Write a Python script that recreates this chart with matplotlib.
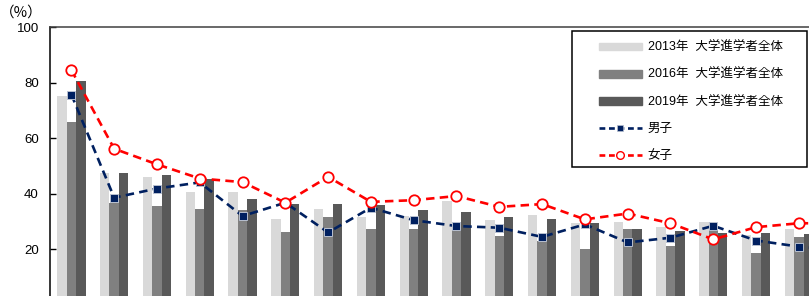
import matplotlib
matplotlib.use("Agg")
import matplotlib.pyplot as plt
import numpy as np
from matplotlib.patches import Patch, Rectangle
from matplotlib.lines import Line2D

# ---- data (last group lies beyond the visible edge) ----
y2013 = [75.0, 47.6, 46.1, 40.7, 40.7, 30.8, 34.5, 31.8, 32.0, 37.5, 30.4, 32.2, 29.6, 29.9, 28.2, 29.9, 25.2, 27.2, 26.0]
y2016 = [65.8, 36.8, 35.6, 34.6, 34.0, 26.2, 31.7, 27.5, 27.2, 27.5, 24.8, 22.9, 20.1, 27.2, 21.2, 28.0, 18.8, 24.3, 22.0]
y2019 = [80.7, 47.6, 46.7, 45.3, 38.3, 36.5, 36.4, 35.9, 34.1, 33.6, 31.7, 30.8, 29.6, 27.5, 26.7, 25.8, 25.8, 25.4, 24.0]
male = [75.7, 38.6, 41.9, 44.1, 32.0, 36.8, 26.1, 35.0, 30.5, 28.4, 27.8, 24.5, 29.0, 22.5, 24.2, 28.5, 23.2, 21.0, 19.8]
female = [84.5, 56.2, 50.6, 45.5, 44.2, 36.8, 46.1, 37.1, 37.7, 39.2, 35.3, 36.3, 30.8, 32.9, 29.4, 23.6, 28.0, 29.4, 29.4]
labels = ["2013年  大学進学者全体", "2016年  大学進学者全体", "2019年  大学進学者全体", "男子", "女子"]
yticks = [20, 40, 60, 80, 100]

c13, c16, c19 = "#d9d9d9", "#808080", "#595959"
cm, cf = "#002060", "#ff0000"
fam = ["Liberation Sans", "Noto Sans CJK JP", "DejaVu Sans"]

W, H = 809, 296
fig = plt.figure(figsize=(W / 100, H / 100), dpi=100)
ax = fig.add_axes([50 / W, -9 / H, 813 / W, 278 / H])

x = np.arange(len(y2013))
bw = 0.22
ax.bar(x - bw, y2013, bw, color=c13, zorder=2)
ax.bar(x, y2016, bw, color=c16, zorder=2)
ax.bar(x + bw, y2019, bw, color=c19, zorder=2)

ax.plot(x, male, color=cm, lw=1.9, dashes=(3.2, 2.0), marker="s", ms=5.5,
        mfc=cm, mec="#b8c0d0", mew=0.7, zorder=3)
ax.plot(x, female, color=cf, lw=1.9, dashes=(3.2, 2.0), marker="o", ms=7.5,
        mfc="white", mec=cf, mew=1.3, zorder=4)

ax.set_xlim(-0.5, len(x) - 0.5)
ax.set_ylim(0, 100)
ax.set_yticks(yticks)
ax.set_yticklabels([str(t) for t in yticks], fontfamily="Liberation Sans", fontsize=9.5)
ax.tick_params(axis="y", direction="in", length=4, width=1, pad=8, colors="black")
ax.set_xticks([])
for s in ["right", "bottom"]:
    ax.spines[s].set_visible(False)
ax.spines["left"].set_color("black")
ax.spines["left"].set_linewidth(1.1)
ax.spines["top"].set_color("#404040")
ax.spines["top"].set_linewidth(1.1)

fig.text(21 / W, 1 - 13 / H, "（%）", ha="center", va="center", fontsize=10.5,
         fontfamily=["Noto Sans CJK JP", "DejaVu Sans"])

# legend with manual frame
handles = [
    Patch(color=c13), Patch(color=c16), Patch(color=c19),
    Line2D([], [], color=cm, lw=1.9, dashes=(2.2, 1.4), marker="s", ms=4, mfc=cm, mec="#b8c0d0", mew=0.5),
    Line2D([], [], color=cf, lw=1.9, dashes=(2.2, 1.4), marker="o", ms=5.5, mfc="white", mec=cf, mew=1.0),
]
leg = fig.legend(handles, labels, loc="upper left", bbox_to_anchor=(599 / W, 1 - 42 / H),
                 frameon=False, borderpad=0, borderaxespad=0, handlelength=3.4,
                 handleheight=0.55, handletextpad=0.5, labelspacing=1.2,
                 prop={"family": fam, "size": 9})
fig.add_artist(Rectangle((572 / W, 1 - 167 / H), 235 / W, 136 / H, transform=fig.transFigure,
                         fill=False, edgecolor="black", lw=1.1))

fig.savefig("out.png", dpi=100)
